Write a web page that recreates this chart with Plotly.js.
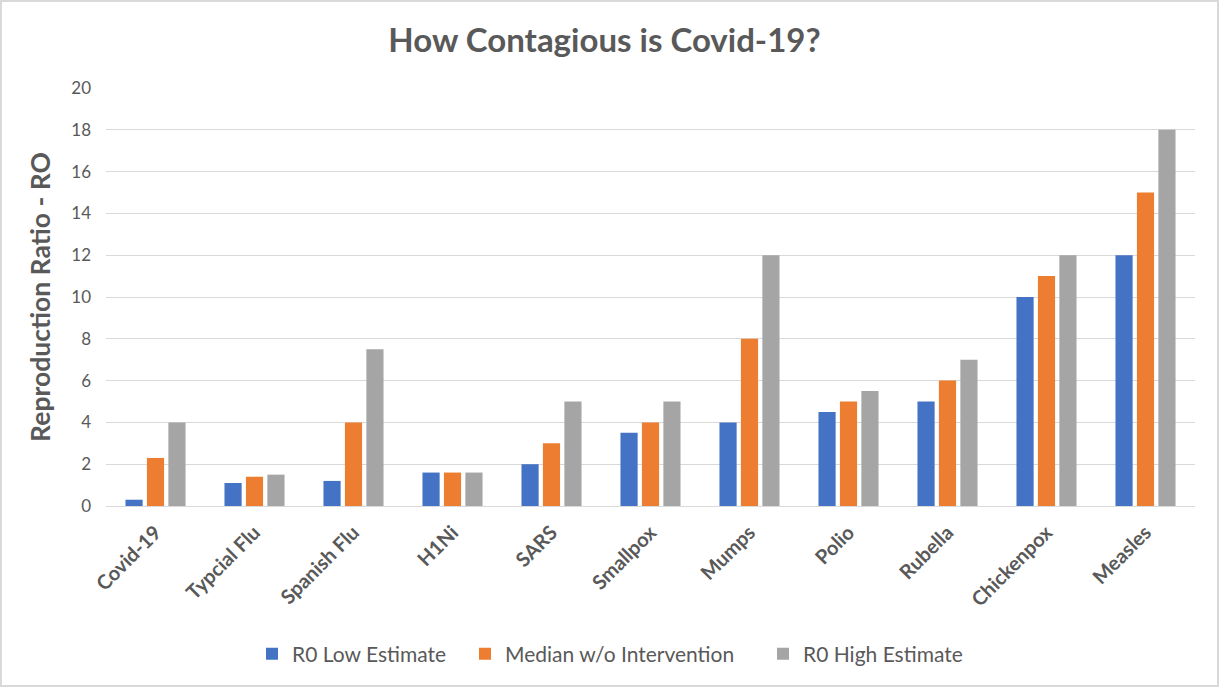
<!DOCTYPE html>
<html>
<head>
<meta charset="utf-8">
<script src="https://cdn.plot.ly/plotly-3.0.1.min.js"></script>
<style>
  html, body { margin: 0; padding: 0; background: #fff; }
  #chart { width: 1219px; height: 687px; box-sizing: border-box; border: 2px solid #d9d9d9; }
</style>
</head>
<body>
<div id="chart"></div>
<script>
const categories = ["Covid-19", "Typcial Flu", "Spanish Flu", "H1Ni", "SARS", "Smallpox", "Mumps", "Polio", "Rubella", "Chickenpox", "Measles"];
const lowEstimate = [0.3, 1.1, 1.2, 1.6, 2, 3.5, 4, 4.5, 5, 10, 12];
const medianNoIntervention = [2.3, 1.4, 4, 1.6, 3, 4, 8, 5, 6, 11, 15];
const highEstimate = [4, 1.5, 7.5, 1.6, 5, 5, 12, 5.5, 7, 12, 18];
const seriesNames = ["R0 Low Estimate", "Median w/o Intervention", "R0 High Estimate"];
const yTicks = [0, 2, 4, 6, 8, 10, 12, 14, 16, 18, 20];

const FONT = "Lato, 'Open Sans', sans-serif";
const TXT = "#595959";

const traces = [
  { type: "bar", name: seriesNames[0], x: categories, y: lowEstimate, marker: { color: "#4472C4" }, legend: "legend" },
  { type: "bar", name: seriesNames[1], x: categories, y: medianNoIntervention, marker: { color: "#ED7D31" }, legend: "legend2" },
  { type: "bar", name: seriesNames[2], x: categories, y: highEstimate, marker: { color: "#A5A5A5" }, legend: "legend3" }
];

function leg(xpx) {
  return { orientation: "h", x: (xpx - 106) / 1089, xanchor: "left", y: -0.351, yanchor: "middle",
           font: { family: FONT, size: 21, color: TXT }, itemwidth: 30, bgcolor: "rgba(0,0,0,0)" };
}

const layout = {
  width: 1215, height: 683,
  paper_bgcolor: "#ffffff", plot_bgcolor: "#ffffff",
  margin: { l: 104, r: 22, t: 86, b: 178 },
  barmode: "group", bargap: 0.35, bargroupgap: 0.2,
  font: { family: FONT, color: TXT },
  title: { text: "<b>How Contagious is Covid-19?</b>", font: { family: FONT, size: 33, color: TXT }, x: 0.4959, xanchor: "center", y: 0.9436, yanchor: "middle" },
  xaxis: {
    type: "category", tickangle: -45, showgrid: false, showline: true, linecolor: "#D9D9D9", linewidth: 1,
    ticks: "", ticklabelstandoff: 6, tickfont: { family: FONT, size: 20, color: TXT, weight: "bold" }, fixedrange: true
  },
  yaxis: {
    range: [0, 20], tickvals: yTicks, ticktext: yTicks.map(String), showgrid: true, gridcolor: "#D9D9D9", gridwidth: 1,
    zeroline: false, showline: false, ticks: "", ticklabelstandoff: 14,
    tickfont: { family: FONT, size: 17, color: TXT },
    title: { text: "<b>Reproduction Ratio - RO</b>", font: { family: FONT, size: 26.5, color: TXT }, standoff: 12 },
    fixedrange: true
  },
  legend: leg(252), legend2: leg(465), legend3: leg(763),
  showlegend: true
};

Plotly.newPlot("chart", traces, layout, { displayModeBar: false, staticPlot: true });
</script>
</body>
</html>
